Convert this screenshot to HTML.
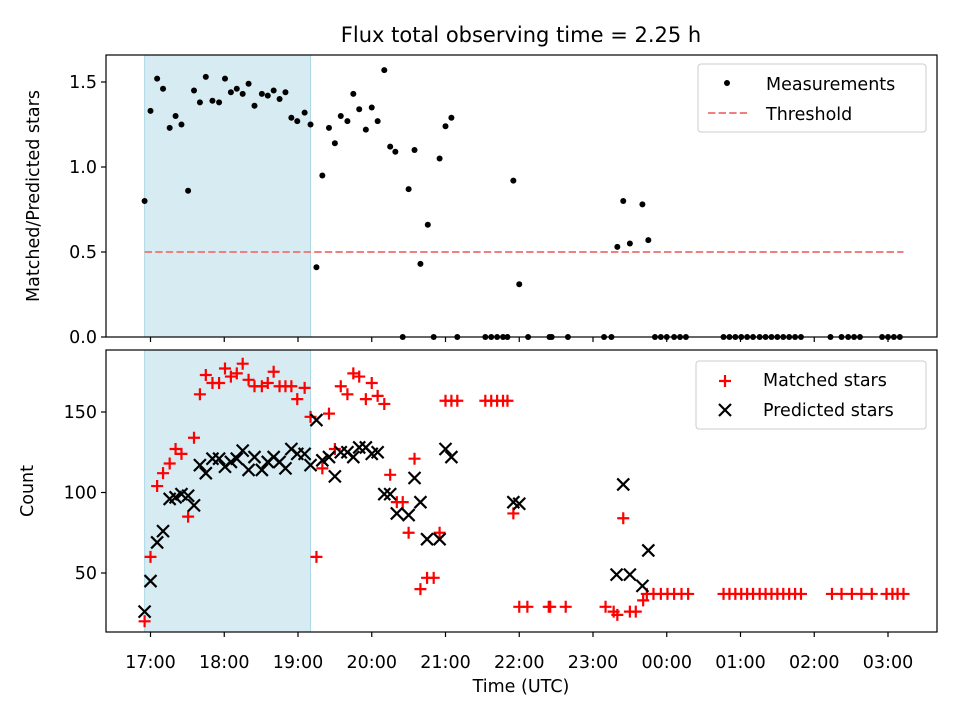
<!DOCTYPE html>
<html><head><meta charset="utf-8"><style>
body{margin:0;background:#fff;}
svg{display:block;font-family:"DejaVu Sans","Liberation Sans",sans-serif;}
</style></head><body>
<svg id="chart" width="960" height="720" xmlns="http://www.w3.org/2000/svg"></svg>
<script>
// ---- data (time in decimal hours from 17:00 day start; >24 = after midnight) ----
const ratioTimes=[16.92,17.00,17.09,17.17,17.26,17.34,17.42,17.51,17.59,17.67,17.75,17.84,17.93,18.01,18.09,18.17,18.25,18.33,18.41,18.51,18.59,18.67,18.75,18.83,18.91,18.99,19.09,19.17,19.25,19.33,19.42,19.50,19.58,19.67,19.75,19.83,19.92,20.00,20.08,20.17,20.25,20.32,20.42,20.50,20.58,20.66,20.76,20.84,20.92,21.00,21.08,21.16,21.54,21.62,21.70,21.78,21.84,21.92,22.00,22.12,22.41,22.44,22.66,23.15,23.25,23.33,23.41,23.50,23.67,23.75,23.84,23.92,24.00,24.10,24.18,24.26,24.77,24.85,24.93,25.01,25.09,25.17,25.26,25.34,25.42,25.50,25.58,25.66,25.74,25.82,26.22,26.37,26.46,26.54,26.62,26.92,27.00,27.08,27.16];
const ratioValues=[0.80,1.33,1.52,1.46,1.23,1.30,1.25,0.86,1.45,1.38,1.53,1.39,1.38,1.52,1.44,1.46,1.43,1.49,1.36,1.43,1.42,1.45,1.40,1.44,1.29,1.27,1.32,1.25,0.41,0.95,1.23,1.14,1.30,1.27,1.43,1.34,1.22,1.35,1.27,1.57,1.12,1.09,0,0.87,1.10,0.43,0.66,0,1.05,1.24,1.29,0,0,0,0,0,0,0.92,0.31,0,0,0,0,0,0,0.53,0.80,0.55,0.78,0.57,0,0,0,0,0,0,0,0,0,0,0,0,0,0,0,0,0,0,0,0,0,0,0,0,0,0,0,0,0];
const threshold=0.5;
const matchedTimes=[16.92,17.00,17.09,17.17,17.26,17.34,17.42,17.51,17.59,17.67,17.75,17.84,17.93,18.01,18.09,18.17,18.25,18.33,18.41,18.51,18.59,18.67,18.75,18.83,18.91,18.99,19.09,19.17,19.25,19.33,19.42,19.50,19.58,19.67,19.75,19.83,19.92,20.00,20.08,20.17,20.25,20.34,20.42,20.50,20.58,20.66,20.75,20.84,20.92,21.00,21.08,21.16,21.54,21.62,21.70,21.78,21.84,21.92,22.00,22.11,22.40,22.42,22.63,23.17,23.28,23.33,23.41,23.50,23.58,23.68,23.73,23.82,23.92,24.01,24.10,24.20,24.29,24.77,24.85,24.93,25.01,25.09,25.17,25.26,25.34,25.42,25.50,25.58,25.66,25.74,25.82,26.24,26.37,26.51,26.64,26.78,26.98,27.06,27.13,27.21];
const matchedValues=[20,60,104,112,118,127,124,85,134,161,173,168,168,177,172,174,180,170,166,166,168,175,166,166,166,158,165,147,60,115,149,127,166,161,174,172,158,168,160,155,111,94,94,75,121,40,47,47,75,157,157,157,157,157,157,157,157,87,29,29,29,29,29,29,26,24,84,26,26,33,37,37,37,37,37,37,37,37,37,37,37,37,37,37,37,37,37,37,37,37,37,37,37,37,37,37,37,37,37,37];
const predictedTimes=[16.92,17.00,17.09,17.17,17.26,17.34,17.42,17.51,17.59,17.67,17.75,17.84,17.93,18.01,18.09,18.17,18.25,18.33,18.41,18.51,18.59,18.67,18.75,18.83,18.91,18.99,19.09,19.17,19.25,19.33,19.42,19.50,19.58,19.67,19.75,19.83,19.92,20.00,20.08,20.17,20.25,20.34,20.50,20.58,20.66,20.75,20.92,21.00,21.08,21.92,22.00,23.32,23.41,23.50,23.67,23.75];
const predictedValues=[26,45,69,76,96,97,99,98,92,117,112,121,121,116,119,121,126,114,122,114,119,122,119,115,127,124,124,117,145,120,122,110,125,125,122,128,128,124,125,99,99,87,86,109,94,71,71,127,122,94,93,49,105,49,42,64];
const xTickHours=[17,18,19,20,21,22,23,24,25,26,27];
const xTickLabels=["17:00","18:00","19:00","20:00","21:00","22:00","23:00","00:00","01:00","02:00","03:00"];
const topTicks=[0,0.5,1.0,1.5];
const topTickLabels=["0.0","0.5","1.0","1.5"];
const botTicks=[50,100,150];
const shadeStart=16.92, shadeEnd=19.17;

const NS="http://www.w3.org/2000/svg";
const svg=document.getElementById('chart');
function mk(tag,attrs,parent){const e=document.createElementNS(NS,tag);for(const k in attrs)e.setAttribute(k,attrs[k]);(parent||svg).appendChild(e);return e;}
const L=106,R=937,T1=55,B1=337,T2=350,B2=632;
const xs=t=>150.5+(t-17)*73.75;
const y1=v=>337-v*170;
const y2=v=>653.5-v*1.61;

[[T1,B1],[T2,B2]].forEach(([t,b],i)=>{
 const r=mk('rect',{x:xs(shadeStart),y:t,width:xs(shadeEnd)-xs(shadeStart),height:b-t,fill:'#add8e6','fill-opacity':0.5,stroke:'#add8e6','stroke-width':1});
 
 
});
const th=mk('line',{x1:xs(16.92),x2:xs(27.21),y1:y1(threshold),y2:y1(threshold),stroke:'#f08080','stroke-width':2,'stroke-dasharray':'7.4,3.2'});


ratioTimes.forEach((t,i)=>{
 const c=mk('circle',{cx:xs(t),cy:y1(ratioValues[i]),r:3,fill:'#000'});
 
 
});
matchedTimes.forEach((t,i)=>{
 const x=xs(t),y=y2(matchedValues[i]);
 const p=mk('path',{d:`M${x-6},${y}H${x+6}M${x},${y-6}V${y+6}`,stroke:'#f00','stroke-width':2.2});
 
 
});
predictedTimes.forEach((t,i)=>{
 const x=xs(t),y=y2(predictedValues[i]);
 const p=mk('path',{d:`M${x-6},${y-6}L${x+6},${y+6}M${x-6},${y+6}L${x+6},${y-6}`,stroke:'#000','stroke-width':2.2});
 
 
});
[[T1,B1],[T2,B2]].forEach(([t,b],i)=>{
 const r=mk('rect',{x:L,y:t,width:R-L,height:b-t,fill:'none',stroke:'#000','stroke-width':1.2});
 
 
});
xTickHours.forEach((h,i)=>{
 const x=xs(h);
 mk('line',{x1:x,x2:x,y1:B1,y2:B1+5,stroke:'#000','stroke-width':1.2});
 mk('line',{x1:x,x2:x,y1:B2,y2:B2+5,stroke:'#000','stroke-width':1.2});
 const tx=mk('text',{x:x,y:668,'font-size':'17.5','text-anchor':'middle',fill:'#000'});
 tx.textContent=xTickLabels[i];
 
 
});
topTicks.forEach((v,i)=>{
 const y=y1(v);
 mk('line',{x1:L-5,x2:L,y1:y,y2:y,stroke:'#000','stroke-width':1.2});
 const tx=mk('text',{x:L-9,y:y+6,'font-size':'17.5','text-anchor':'end'});
 tx.textContent=topTickLabels[i];
 
 
});
botTicks.forEach(v=>{
 const y=y2(v);
 mk('line',{x1:L-5,x2:L,y1:y,y2:y,stroke:'#000','stroke-width':1.2});
 const tx=mk('text',{x:L-9,y:y+6,'font-size':'17.5','text-anchor':'end'});
 tx.textContent=String(v);
 
 
});
</script>
<svg style="position:absolute;left:0;top:0" width="960" height="720" xmlns="http://www.w3.org/2000/svg" font-family="DejaVu Sans, Liberation Sans, sans-serif">
 <text x="521" y="42" font-size="21" text-anchor="middle">Flux total observing time = 2.25 h</text>
 <text transform="translate(39,196) rotate(-90)" font-size="17.5" text-anchor="middle">Matched/Predicted stars</text>
 <text transform="translate(33,491) rotate(-90)" font-size="17.5" text-anchor="middle">Count</text>
 <text x="521" y="692" font-size="17.5" text-anchor="middle">Time (UTC)</text>
 <g>
  <rect x="698" y="64" width="228" height="68" rx="3" fill="#fff" fill-opacity="0.8" stroke="#ccc"/>
  <circle cx="727" cy="83" r="3" fill="#000"/>
  <text x="766" y="90" font-size="17.5">Measurements</text>
  <line x1="708" x2="747" y1="113" y2="113" stroke="#f08080" stroke-width="2" stroke-dasharray="7.4,3.2"/>
  <text x="766" y="120" font-size="17.5">Threshold</text>
 </g>
 <g>
  <rect x="696" y="361" width="230" height="68" rx="3" fill="#fff" fill-opacity="0.8" stroke="#ccc"/>
  <path d="M719,381H731M725,375V387" stroke="#f00" stroke-width="2.2"/>
  <text x="763" y="386" font-size="17.5">Matched stars</text>
  <path d="M719,404L731,416M719,416L731,404" stroke="#000" stroke-width="2.2"/>
  <text x="763" y="416" font-size="17.5">Predicted stars</text>
 </g>
</svg>
</body></html>
